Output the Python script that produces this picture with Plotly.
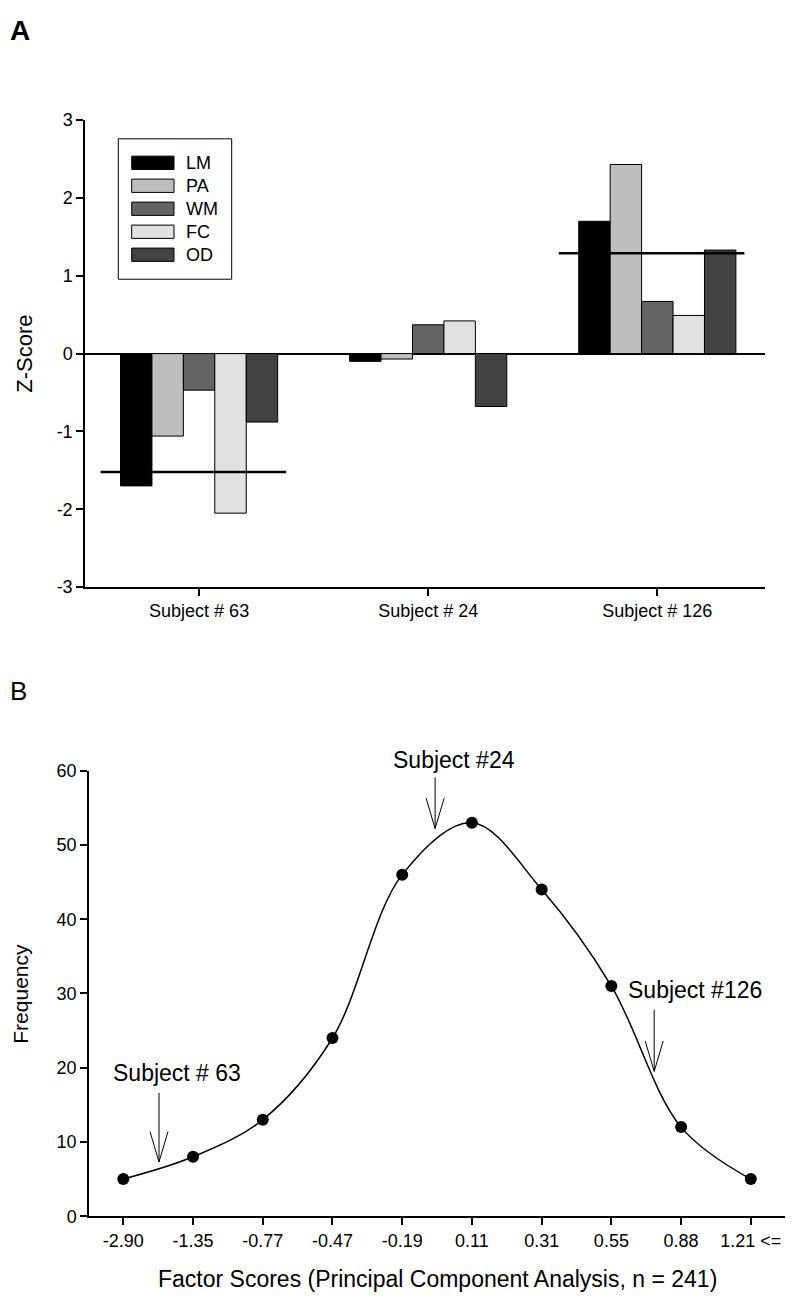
"""Two-panel figure: subject z-scores (A) and factor score distribution (B)."""
import plotly.graph_objects as go

# the page body adds an 8px margin, so the figure is drawn 8px in and down
OFF = 8
W, H = 798 - OFF, 1304 - OFF
FONT = "Liberation Sans, Arial, sans-serif"

# ---- panel A data
subjects = ["Subject # 63", "Subject # 24", "Subject # 126"]
tests = ["LM", "PA", "WM", "FC", "OD"]
test_colors = ["#000000", "#bebebe", "#646464", "#e1e1e1", "#424242"]
lm = [-1.70, -0.10, 1.70]
pa = [-1.06, -0.07, 2.43]
wm = [-0.47, 0.37, 0.67]
fc = [-2.05, 0.42, 0.49]
od = [-0.88, -0.68, 1.33]
scores = [lm, pa, wm, fc, od]
# composite score lines drawn over subjects #63 and #126
composite_subject = [0, 2]
composite_value = [-1.52, 1.29]
z_ticks = [-3, -2, -1, 0, 1, 2, 3]

# ---- panel B data
factor_bins = ["-2.90", "-1.35", "-0.77", "-0.47", "-0.19",
               "0.11", "0.31", "0.55", "0.88", "1.21 <="]
frequency = [5, 8, 13, 24, 46, 53, 44, 31, 12, 5]
freq_ticks = [0, 10, 20, 30, 40, 50, 60]
# arrows: label (page px, left edge / middle), arrow x, top and tip in data units
arrow_labels = ["Subject # 63", "Subject #24", "Subject #126"]
label_px = [111, 391, 626]
label_py = [1080, 762, 995]
arrow_x = [0.512, 4.472, 7.614]
arrow_top = [16.6, 59.1, 27.8]
arrow_tip = [7.3, 52.2, 19.5]


def px(x):
    return (x - OFF) / W


def py(y):
    return 1 - (y - OFF) / H


fig = go.Figure()

for name, vals, col in zip(tests, scores, test_colors):
    fig.add_trace(go.Bar(
        x=list(range(len(subjects))), y=vals, name=name,
        marker=dict(color=col, line=dict(color="#000000", width=1)),
        showlegend=False, xaxis="x", yaxis="y",
    ))

for i, v in zip(composite_subject, composite_value):
    fig.add_trace(go.Scatter(
        x=[i - 0.43, i + 0.38], y=[v, v], mode="lines",
        line=dict(color="#000000", width=2.5), showlegend=False,
        hoverinfo="skip", xaxis="x", yaxis="y",
    ))

fig.add_trace(go.Scatter(
    x=list(range(len(factor_bins))), y=frequency, mode="lines+markers",
    line=dict(color="#000000", width=1.5, shape="spline", smoothing=1),
    marker=dict(color="#000000", size=12),
    showlegend=False, xaxis="x2", yaxis="y2",
))

axis_common = dict(
    showline=True, linecolor="#000000", linewidth=1.5, showgrid=False,
    ticks="outside", ticklen=7, tickwidth=1.5, tickcolor="#000000",
    tickfont=dict(family=FONT, size=18, color="#000000"),
)

shapes = []
annotations = []

# custom legend for panel A
shapes.append(dict(type="rect", xref="paper", yref="paper",
                   x0=px(118.3), x1=px(231.7), y0=py(273.3), y1=py(130.7),
                   line=dict(color="#000000", width=1), fillcolor="#ffffff"))
row_top = 148.3
for name, col in zip(tests, test_colors):
    shapes.append(dict(type="rect", xref="paper", yref="paper",
                       x0=px(131.7), x1=px(174), y0=py(row_top + 13.5), y1=py(row_top),
                       line=dict(color="#000000", width=1), fillcolor=col))
    annotations.append(dict(text=name, xref="paper", yref="paper",
                            x=px(184), y=py(row_top + 7), xanchor="left", yanchor="middle",
                            showarrow=False, font=dict(family=FONT, size=18, color="#000000")))
    row_top += 23.35

# arrows in panel B
for lab, lx, ly in zip(arrow_labels, label_px, label_py):
    annotations.append(dict(text=lab, xref="paper", yref="paper", x=px(lx), y=py(ly),
                            xanchor="left", yanchor="middle", showarrow=False,
                            font=dict(family=FONT, size=23, color="#000000")))
for ax, top, tip in zip(arrow_x, arrow_top, arrow_tip):
    shapes.append(dict(type="line", xref="x2", yref="y2", x0=ax, x1=ax, y0=top, y1=tip,
                       line=dict(color="#000000", width=1)))
    shapes.append(dict(type="path", xref="x2", yref="y2",
                       path=f"M{ax - 0.129},{tip + 4.1} L{ax},{tip} L{ax + 0.129},{tip + 4.1}",
                       line=dict(color="#000000", width=1)))

# panel letters and axis titles
annotations += [
    dict(text="<b>A</b>", xref="paper", yref="paper", x=px(8), y=py(21),
         xanchor="left", yanchor="middle", showarrow=False,
         font=dict(family=FONT, size=28, color="#000000")),
    dict(text="B", xref="paper", yref="paper", x=px(8), y=py(692),
         xanchor="left", yanchor="middle", showarrow=False,
         font=dict(family=FONT, size=26, color="#000000")),
    dict(text="Z-Score", xref="paper", yref="paper", x=px(25), y=py(349),
         textangle=-90, xanchor="center", yanchor="middle", showarrow=False,
         font=dict(family=FONT, size=22, color="#000000")),
    dict(text="Frequency", xref="paper", yref="paper", x=px(21), y=py(999),
         textangle=-90, xanchor="center", yanchor="middle", showarrow=False,
         font=dict(family=FONT, size=21, color="#000000")),
    dict(text="Factor Scores (Principal Component Analysis, n = 241)",
         xref="paper", yref="paper", x=px(437), y=py(1289),
         xanchor="center", yanchor="middle", showarrow=False,
         font=dict(family=FONT, size=23, color="#000000")),
]

fig.update_layout(
    width=W, height=H,
    margin=dict(l=0, r=0, t=0, b=0),
    paper_bgcolor="#ffffff", plot_bgcolor="#ffffff",
    barmode="group", bargap=0.314, bargroupgap=0,
    font=dict(family=FONT, color="#000000"),
    xaxis=dict(domain=[px(85), px(765)], anchor="y", range=[-0.498, 2.47],
               tickvals=list(range(len(subjects))), ticktext=subjects,
               zeroline=False, **axis_common),
    yaxis=dict(domain=[py(586), py(111.7)], anchor="x", range=[-3, 3],
               tickvals=z_ticks, ticktext=[str(t) for t in z_ticks],
               zeroline=True, zerolinecolor="#000000", zerolinewidth=1.5,
               **axis_common),
    xaxis2=dict(domain=[px(89), px(785)], anchor="y2", range=[-0.492, 9.49],
                tickvals=list(range(len(factor_bins))), ticktext=factor_bins,
                zeroline=False, **axis_common),
    yaxis2=dict(domain=[py(1225), py(772.5)], anchor="x2", range=[0, 60],
                tickvals=freq_ticks, ticktext=[str(t) for t in freq_ticks],
                zeroline=False, **axis_common),
    shapes=shapes,
    annotations=annotations,
)

fig.write_html("out.html")
